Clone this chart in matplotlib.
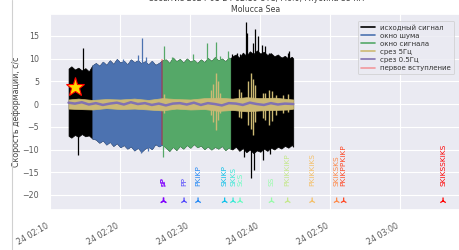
import numpy as np
import matplotlib
matplotlib.use("Agg")
import matplotlib.pyplot as plt
import matplotlib.dates as mdates
from matplotlib.lines import Line2D
import seaborn as sns

sns.set_theme(style="darkgrid")
plt.rcParams["font.family"] = ["DejaVu Sans"]

# minutes after 24 02:10
base = mdates.date2num(np.datetime64("2024-01-24T02:10"))

# envelope of the raw strain-rate trace
t_sig = [2.6, 3.0, 3.5, 4.0, 4.5, 5.0, 5.5, 6.0,
         6.5, 7.0, 7.5, 8.0, 8.5, 9.0, 9.5, 10.0, 10.5, 11.0, 11.5, 12.0,
         12.5, 13.0, 13.5, 14.0, 14.5, 15.0, 15.5, 16.0,
         16.5, 17.0, 17.5, 18.0, 18.5, 19.0, 19.5, 20.0, 20.5, 21.0, 21.5,
         22.0, 22.5, 23.0, 23.5, 24.0, 24.5, 25.0, 25.5, 25.7,
         26.0, 26.5, 27.0, 27.5, 28.0, 28.5, 29.0, 29.5, 30.0, 30.5, 31.0,
         31.5, 32.0, 32.5, 33.0, 33.5, 34.0, 34.5, 34.7]
sig_hi = [7.8, 8.3, 7.6, 8.0, 7.4, 7.9, 7.2, 8.5,
          9.0, 8.4, 9.3, 8.6, 9.6, 8.8, 9.9, 9.1, 9.5, 8.7, 9.8, 9.2,
          9.6, 8.9, 9.4, 8.7, 9.5, 8.6, 9.0, 9.6,
          9.8, 9.0, 10.2, 9.4, 9.9, 9.1, 10.0, 9.3, 9.7, 9.0, 9.8,
          9.2, 10.1, 9.5, 10.3, 9.6, 10.0, 9.4, 10.2, 10.0,
          10.5, 10.9, 10.2, 11.3, 10.6, 11.6, 11.0, 11.8, 11.1, 11.5, 10.8,
          11.2, 10.5, 10.9, 10.2, 10.6, 10.0, 10.4, 10.0]
sig_lo = [-7.0, -7.4, -6.8, -7.2, -6.6, -7.1, -6.9, -7.6,
          -7.8, -8.5, -8.0, -8.9, -8.3, -9.2, -8.6, -9.5, -9.0, -9.8, -9.3, -10.2,
          -9.6, -10.5, -9.8, -9.4, -9.9, -8.8, -9.3, -8.9,
          -9.6, -10.3, -9.4, -10.1, -9.2, -9.8, -9.0, -9.6, -8.8, -9.5, -9.1,
          -9.9, -9.3, -10.0, -9.4, -9.8, -9.2, -10.1, -9.5, -9.8,
          -10.0, -9.4, -10.3, -9.7, -10.6, -10.0, -10.8, -10.2, -10.5, -9.8, -10.3,
          -9.6, -10.0, -9.4, -9.8, -9.2, -9.6, -9.0, -9.4]

# isolated peaks sticking out of the envelope
up_t = [4.7, 10.4, 12.5, 13.1, 13.6, 16.3, 17.4, 20.4, 22.4, 23.7, 24.3, 25.4,
        26.0, 26.6, 27.1, 27.9, 28.1, 28.9, 29.3, 29.6, 30.3, 30.7, 31.3, 32.9,
        33.9, 34.1]
up_top = [12.3, 10.0, 10.7, 14.6, 10.3, 12.8, 10.3, 11.0, 13.4, 13.7, 10.5, 11.7,
          11.0, 11.3, 11.0, 18.1, 15.6, 13.4, 16.5, 15.0, 13.0, 12.7, 11.3, 10.3,
          11.2, 11.6]
down_t = [4.0, 13.0, 14.0, 16.1, 27.7, 28.6, 29.1, 30.4, 31.4]
down_bot = [-11.2, -10.8, -10.4, -11.7, -11.7, -16.3, -14.6, -12.3, -11.0]

noise_win = (6.0, 16.0)
signal_win = (16.0, 25.7)
first_arrival = 16.0

# 5 Hz low-pass trace
t_5hz = [2.6, 4, 6, 8, 10, 12, 14, 16, 18, 20, 22, 24, 26, 28, 30, 32, 34, 34.7]
f5_hi = [1.0, 1.2, 0.9, 1.1, 1.0, 1.2, 0.9, 1.3, 1.1, 1.0, 1.3, 1.4, 1.2, 1.5, 1.3, 1.4, 1.1, 1.0]
f5_lo = [-1.0, -1.1, -1.2, -0.9, -1.1, -1.0, -1.2, -1.4, -1.0, -1.2, -1.1, -1.5, -1.3, -1.6, -1.4, -1.3, -1.2, -1.0]
burst_t = [16.2, 22.9, 23.3, 23.6, 23.9, 24.2, 26.9, 27.3, 28.3, 28.6, 28.9, 29.2,
           30.4, 30.7, 31.2, 31.7, 32.2, 33.2, 34.0]
burst_hi = [2.2, 3.0, 4.5, 6.8, 5.0, 2.5, 3.2, 2.6, 5.0, 6.8, 5.5, 4.2,
            2.4, 2.5, 3.1, 2.8, 2.0, 1.9, 2.1]
burst_lo = [-2.0, -2.5, -4.0, -5.8, -3.5, -2.0, -2.8, -3.0, -4.5, -5.5, -6.8, -4.0,
            -3.0, -3.5, -4.6, -3.8, -2.5, -2.0, -1.8]

# 0.5 Hz low-pass trace
t_05 = [2.6, 3.5, 4.5, 5.5, 6.5, 7.5, 8.5, 9.5, 10.5, 11.5, 12.5, 13.5, 14.5, 15.5,
        16.5, 17.5, 18.5, 19.5, 20.5, 21.5, 22.5, 23.5, 24.5, 25.5, 26.5, 27.5,
        28.5, 29.5, 30.5, 31.5, 32.5, 33.5, 34.7]
f05 = [0.3, 0.1, 0.4, -0.1, 0.2, -0.2, 0.1, 0.3, -0.1, 0.4, 0.0, 0.2, -0.2, 0.1,
       -0.3, 0.1, 0.2, -0.1, 0.3, -0.2, 0.2, 0.0, -0.3, 0.2, 0.1, -0.2,
       0.3, 0.0, -0.2, 0.2, -0.1, 0.1, 0.0]

event_t, event_val = 3.57, 3.8

phase_t = [16.14, 16.2, 19.1, 21.1, 24.9, 26.1, 27.1, 31.6, 33.9, 37.4, 40.9, 41.9, 56.1]
phase_names = ["pP", "sP", "PP", "PKiKP", "SKiKP", "SKKS", "ScS", "SS", "PKiKKiKP",
               "PKiKKiKS", "SKiKSKS", "PKiKPPKiKP", "SKiKSSKiKS"]


def tx(m):
    return base + np.asarray(m, float) / 1440.0


fig = plt.figure(figsize=(4.59, 2.5), dpi=100)
ax = fig.add_axes([50 / 459, 40 / 250, 58.85 * 7 / 459, 196 / 250])

t_sig = np.array(t_sig)
sig_hi = np.array(sig_hi)
sig_lo = np.array(sig_lo)

ax.fill_between(tx(t_sig), sig_lo, sig_hi, color="black", lw=0.5, zorder=2)
for (a, b), col in [(noise_win, "#4c72b0"), (signal_win, "#55a868")]:
    m = (t_sig >= a) & (t_sig <= b)
    ax.fill_between(tx(t_sig[m]), sig_lo[m], sig_hi[m], color=col, lw=0.5, zorder=3)


def win_color(t):
    if noise_win[0] <= t < noise_win[1]:
        return "#4c72b0"
    if signal_win[0] <= t < signal_win[1]:
        return "#55a868"
    return "black"


for t, v in zip(up_t, up_top):
    ax.vlines(tx(t), 0, v, color=win_color(t), lw=0.9, zorder=3)
for t, v in zip(down_t, down_bot):
    ax.vlines(tx(t), v, 0, color=win_color(t), lw=0.9, zorder=3)

ax.vlines(tx(first_arrival), -9.0, 10.0, color="red", alpha=0.35, lw=1.2, zorder=4)

ax.fill_between(tx(t_5hz), f5_lo, f5_hi, color="#ccb974", lw=0.5, zorder=5)
ax.vlines(tx(burst_t), burst_lo, burst_hi, color="#ccb974", lw=1.0, zorder=5)
ax.plot(tx(t_05), f05, color="#8172b2", lw=1.8, zorder=6)

ax.plot(tx(event_t), event_val, marker="*", ms=14, mfc="gold", mec="red",
        mew=0.8, ls="", zorder=7)

# phase arrivals, coloured along the rainbow by arrival group
grp = np.floor(np.array(phase_t) * 2)
uniq = np.unique(grp)
frac = np.searchsorted(uniq, grp) / (len(uniq) - 1)
cols = plt.cm.rainbow(frac)
ax.scatter(tx(phase_t), [-21.3] * len(phase_t), marker="2", c=cols, s=24,
           linewidths=0.9, zorder=6)
for t, name, c in zip(phase_t, phase_names, cols):
    ax.text(tx(t), -18.1, name, rotation=90, ha="center", va="bottom",
            color=c, fontsize=5.3, zorder=6)

ax.set_xlim(tx(-0.05), tx(58.8))
ax.set_ylim(-23.3, 19.8)
ax.xaxis.set_major_locator(mdates.MinuteLocator(byminute=range(0, 60, 10)))
ax.xaxis.set_major_formatter(mdates.DateFormatter("%d %H:%M"))
ax.tick_params(labelsize=5.7, pad=2, colors=".35")
plt.setp(ax.get_xticklabels(), rotation=30, ha="right")
ax.set_yticks([-20, -15, -10, -5, 0, 5, 10, 15])
ax.grid(True, color="white", lw=0.8)

ax.set_ylabel("Скорость деформации, с/с", fontsize=5.7, color=".25")
ax.yaxis.set_label_coords(-0.07, 0.5)
ax.set_title("Событие 2024-01-24 02:10 UTC, M6.0, глубина 35 км\nMolucca Sea",
             fontsize=5.7, color=".25", pad=1.5, linespacing=1.25)

handles = [Line2D([], [], color="black", lw=1.2),
           Line2D([], [], color="#4c72b0", lw=1.2),
           Line2D([], [], color="#55a868", lw=1.2),
           Line2D([], [], color="#ccb974", lw=1.2),
           Line2D([], [], color="#8172b2", lw=1.2),
           Line2D([], [], color="red", alpha=0.35, lw=1.2)]
labels = ["исходный сигнал", "окно шума", "окно сигнала", "срез 5Гц",
          "срез 0.5Гц", "первое вступление"]
leg = ax.legend(handles, labels, loc="upper right", bbox_to_anchor=(0.997, 0.93),
                bbox_transform=fig.transFigure, fontsize=5.0, handlelength=2.0,
                borderpad=0.45, labelspacing=0.3, handletextpad=0.8,
                frameon=True, fancybox=True, framealpha=0.8)
leg.get_frame().set_facecolor("#eaeaf2")
leg.get_frame().set_edgecolor("0.8")
leg.get_frame().set_linewidth(0.6)
for txt in leg.get_texts():
    txt.set_color(".2")

fig.add_artist(Line2D([11.5 / 459] * 2, [0, 1], color="#d0d0d0", lw=0.8,
                      transform=fig.transFigure))

fig.savefig("out.png", dpi=100)
